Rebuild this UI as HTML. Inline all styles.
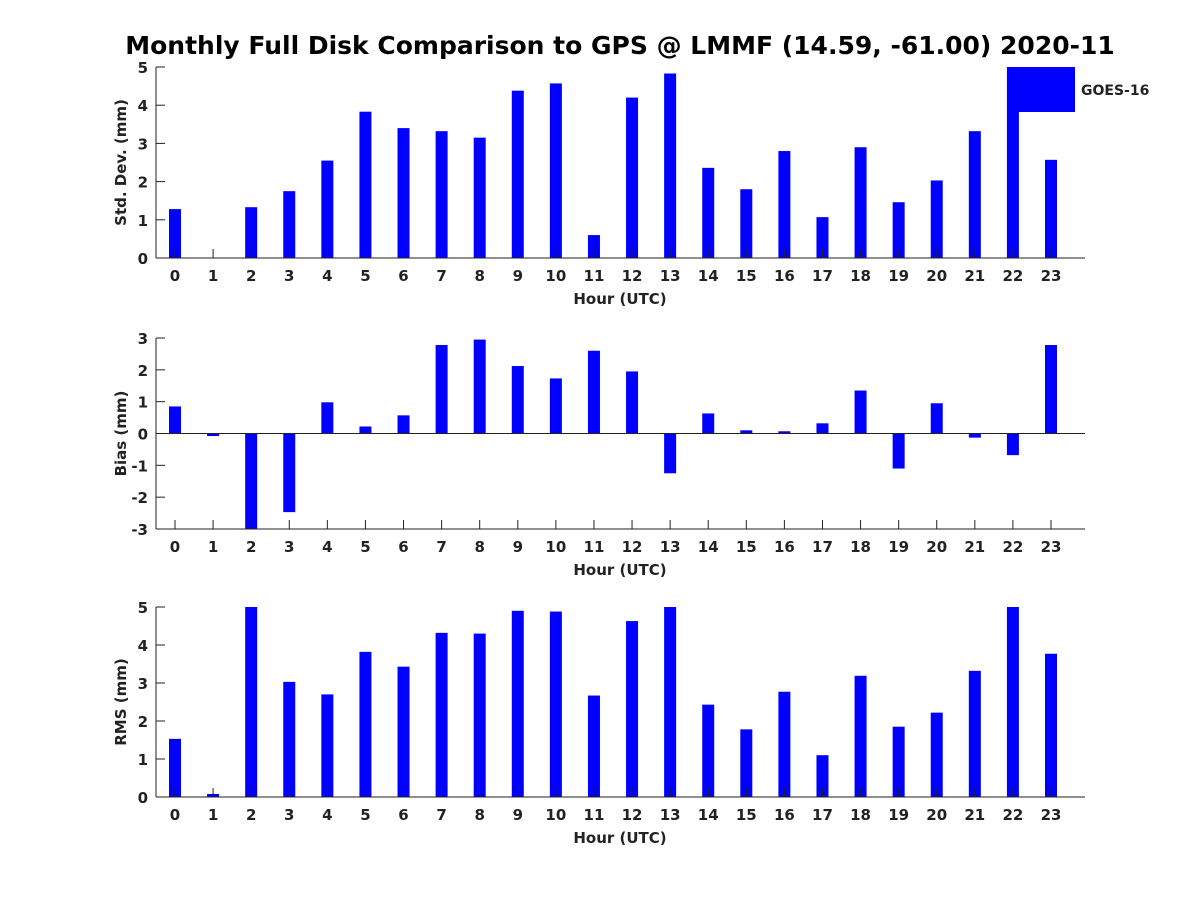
<!DOCTYPE html>
<html><head><meta charset="utf-8"><style>
body{margin:0;background:#fff;}
svg text{font-family:"DejaVu Sans","Liberation Sans",sans-serif;font-weight:bold;fill:#222;}
</style></head><body>
<svg id="c" width="1200" height="900" xmlns="http://www.w3.org/2000/svg">
<rect width="1200" height="900" fill="#fff"/>
<text x="620" y="54" font-size="25" text-anchor="middle" style="fill:#000">Monthly Full Disk Comparison to GPS @ LMMF (14.59, -61.00) 2020-11</text>
</svg>
<script>
const hours = [0,1,2,3,4,5,6,7,8,9,10,11,12,13,14,15,16,17,18,19,20,21,22,23];
const stdDev = [1.28,0,1.33,1.75,2.55,3.83,3.4,3.32,3.15,4.38,4.57,0.6,4.2,4.83,2.36,1.8,2.8,1.07,2.9,1.46,2.03,3.32,5.2,2.57];
const bias = [0.85,-0.08,-3.2,-2.47,0.98,0.22,0.57,2.78,2.95,2.12,1.73,2.6,1.95,-1.25,0.63,0.1,0.07,0.32,1.35,-1.1,0.95,-0.13,-0.68,2.78];
const rms = [1.53,0.08,5.2,3.03,2.7,3.82,3.43,4.32,4.3,4.9,4.88,2.67,4.63,5.2,2.43,1.78,2.77,1.1,3.19,1.85,2.22,3.32,5.2,3.77];
const stdTicks = [0,1,2,3,4,5];
const biasTicks = [-3,-2,-1,0,1,2,3];
const rmsTicks = [0,1,2,3,4,5];

const svg = document.getElementById('c');
const NS = 'http://www.w3.org/2000/svg';
function mk(tag, attrs, parent){
  const e = document.createElementNS(NS, tag);
  for (const k in attrs) e.setAttribute(k, attrs[k]);
  (parent||svg).appendChild(e);
  return e;
}
const X0 = 156, X1 = 1085;
function xs(h){ return 175 + h * (1051 - 175) / 23; }

const lg = mk('g', {});


mk('rect', {x: 1007, y: 67, width: 68, height: 45, fill: '#0000ff'}, lg);
const lt = mk('text', {x: 1081, y: 95, 'font-size': 14, 'text-anchor': 'start'}, lg);
lt.textContent = 'GOES-16';



function panel(name, top, bottom, vmin, vmax, vals, ticks, ylabel){
  const g = mk('g', {});
  
  
  const ys = v => bottom - (Math.max(vmin, Math.min(vmax, v)) - vmin) * (bottom - top) / (vmax - vmin);
  const y0 = ys(Math.max(vmin, 0));
  vals.forEach((v, i) => {
    const y = ys(v);
    const r = mk('rect', {x: xs(hours[i]) - 6, y: Math.min(y, y0), width: 12, height: Math.max(Math.abs(y - y0), 0.01), fill: '#0000ff'}, g);
    
    
  });
  mk('line', {x1: X0, y1: top, x2: X0, y2: bottom, stroke: '#222', 'stroke-width': 1}, g);
  mk('line', {x1: X0, y1: bottom, x2: X1, y2: bottom, stroke: '#222', 'stroke-width': 1}, g);
  if (vmin < 0) mk('line', {x1: X0, y1: ys(0), x2: X1, y2: ys(0), stroke: '#222', 'stroke-width': 1}, g);
  hours.forEach(h => {
    mk('line', {x1: xs(h), y1: bottom, x2: xs(h), y2: bottom - 9, stroke: '#222', 'stroke-width': 1}, g);
    const t = mk('text', {x: xs(h), y: bottom + 23, 'font-size': 15, 'text-anchor': 'middle'}, g);
    t.textContent = h;
    
    
  });
  ticks.forEach(v => {
    mk('line', {x1: X0, y1: ys(v), x2: X0 + 9, y2: ys(v), stroke: '#222', 'stroke-width': 1}, g);
    const t = mk('text', {x: X0 - 8, y: ys(v) + 6, 'font-size': 15, 'text-anchor': 'end'}, g);
    t.textContent = v;
    
    
  });
  const xt = mk('text', {x: 620, y: bottom + 46, 'font-size': 15, 'text-anchor': 'middle'}, g);
  xt.textContent = 'Hour (UTC)';
  
  
  const cy = (top + bottom) / 2;
  const yt = mk('text', {x: 126, y: cy, 'font-size': 15, 'text-anchor': 'middle', transform: 'rotate(-90 126 ' + cy + ')'}, g);
  yt.textContent = ylabel;
  
  
}
panel('std-dev', 67, 258, 0, 5, stdDev, stdTicks, 'Std. Dev. (mm)');
panel('bias', 338, 529, -3, 3, bias, biasTicks, 'Bias (mm)');
panel('rms', 607, 797, 0, 5, rms, rmsTicks, 'RMS (mm)');
</script>
</body></html>
